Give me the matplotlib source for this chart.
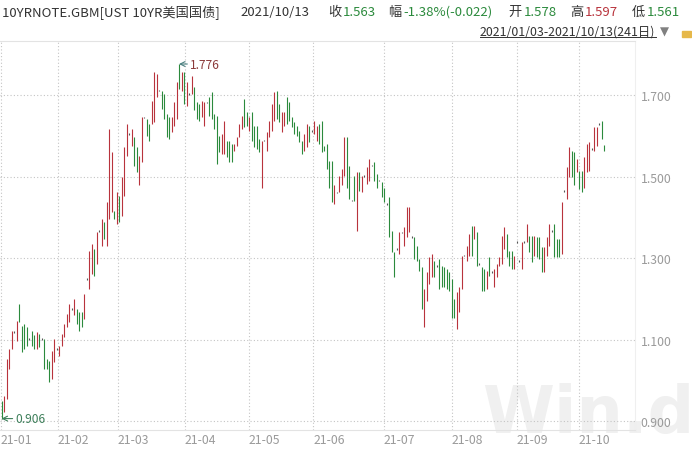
import numpy as np
import matplotlib
matplotlib.use("Agg")
from matplotlib import pyplot as plt

plt.rcParams['font.family'] = ['Noto Sans CJK SC', 'DejaVu Sans']

# daily open / close of the 10Y note yield
opens = [
    0.950, 0.921, 0.954, 1.028, 1.077, 1.118, 1.097, 1.187, 1.134, 1.138,
    1.130, 1.101, 1.122, 1.110, 1.077, 1.114, 1.101, 1.101, 1.052, 1.048,
    1.003, 1.044, 1.077, 1.060, 1.085, 1.106, 1.130, 1.142, 1.175, 1.159,
    1.175, 1.167, 1.167, 1.150, 1.248, 1.224, 1.261, 1.322, 1.285, 1.367,
    1.330, 1.388, 1.330, 1.396, 1.412, 1.416, 1.384, 1.453, 1.404, 1.453,
    1.551, 1.604, 1.576, 1.596, 1.572, 1.478, 1.535, 1.645, 1.641, 1.629,
    1.629, 1.633, 1.694, 1.711, 1.711, 1.703, 1.654, 1.645, 1.608, 1.625,
    1.641, 1.776, 1.711, 1.756, 1.674, 1.703, 1.703, 1.719, 1.682,
    1.678, 1.645, 1.625, 1.682, 1.694, 1.707, 1.654, 1.649, 1.600,
    1.555, 1.555, 1.588, 1.588, 1.580,
    1.563, 1.576, 1.596, 1.617,
    1.690, 1.658, 1.612, 1.658, 1.625, 1.625, 1.592, 1.473, 1.588, 1.563,
    1.596, 1.612, 1.637, 1.711, 1.678,
    1.608, 1.625, 1.694, 1.682, 1.645, 1.633, 1.625, 1.612, 1.588,
    1.563, 1.572, 1.625, 1.612, 1.604, 1.588, 1.629, 1.637,
    1.576, 1.580,
    1.539, 1.539, 1.433, 1.461, 1.461, 1.478, 1.502, 1.596, 1.527, 1.441,
    1.502, 1.367, 1.510, 1.461, 1.502, 1.482, 1.490,
    1.527, 1.535, 1.506, 1.490, 1.486, 1.473, 1.433,
    1.449, 1.367, 1.314, 1.322, 1.310, 1.363, 1.330, 1.351, 1.363, 1.351,
    1.351, 1.330,
    1.298, 1.277, 1.130, 1.195, 1.236, 1.253, 1.293, 1.281,
    1.298, 1.281, 1.277, 1.273, 1.265, 1.248, 1.199, 1.126, 1.167, 1.224,
    1.306, 1.293, 1.306, 1.379, 1.347, 1.363, 1.285,
    1.277, 1.273, 1.224, 1.302, 1.265, 1.228,
    1.253, 1.281, 1.285, 1.322, 1.359, 1.318, 1.318, 1.273, 1.339, 1.293,
    1.273,
    1.339, 1.339, 1.355, 1.355, 1.306, 1.351, 1.351, 1.326, 1.265, 1.306,
    1.330, 1.367, 1.384, 1.347, 1.347, 1.310, 1.465,
    1.445, 1.498, 1.563, 1.559, 1.510, 1.514, 1.514, 1.473, 1.510, 1.514,
    1.568, 1.563, 1.576, 1.629, 1.637, 1.578,
]
closes = [
    0.906, 0.962, 1.052, 1.077, 1.122, 1.118, 1.146, 1.142, 1.069, 1.077,
    1.085, 1.101, 1.085, 1.077, 1.118, 1.081, 1.101, 1.028, 1.028, 0.995,
    1.073, 1.101, 1.077, 1.085, 1.114, 1.138, 1.163, 1.187, 1.175, 1.199,
    1.138, 1.122, 1.130, 1.212, 1.248, 1.318, 1.334, 1.257, 1.363, 1.367,
    1.396, 1.347, 1.437, 1.617, 1.559, 1.396, 1.461, 1.388, 1.498, 1.572,
    1.629, 1.604, 1.617, 1.527, 1.510, 1.551, 1.645, 1.645, 1.600, 1.588,
    1.686, 1.756, 1.752, 1.711, 1.666, 1.641, 1.596, 1.592, 1.645, 1.682,
    1.731, 1.715, 1.756, 1.678, 1.731, 1.703, 1.747, 1.662, 1.641,
    1.637, 1.686, 1.682, 1.682, 1.649, 1.641, 1.617, 1.531, 1.559,
    1.604, 1.637, 1.547, 1.535, 1.535,
    1.580, 1.596, 1.629, 1.649,
    1.621, 1.625, 1.645, 1.588, 1.572, 1.568, 1.559, 1.588, 1.588, 1.608,
    1.637, 1.678, 1.707, 1.641, 1.633,
    1.658, 1.658, 1.629, 1.637, 1.621, 1.604, 1.600, 1.584, 1.555,
    1.604, 1.629, 1.584, 1.612, 1.637, 1.625, 1.580, 1.559,
    1.563, 1.518,
    1.473, 1.437, 1.478, 1.461, 1.502, 1.518, 1.596, 1.473, 1.445, 1.441,
    1.441, 1.510, 1.465, 1.502, 1.502, 1.523, 1.543,
    1.527, 1.490, 1.473, 1.490, 1.449, 1.437, 1.433,
    1.351, 1.314, 1.253, 1.322, 1.363, 1.363, 1.375, 1.424, 1.424, 1.351,
    1.298, 1.293,
    1.269, 1.175, 1.224, 1.265, 1.302, 1.310, 1.253, 1.281,
    1.224, 1.228, 1.228, 1.224, 1.220, 1.154, 1.154, 1.216, 1.228, 1.306,
    1.306, 1.330, 1.359, 1.306, 1.379, 1.281, 1.285,
    1.220, 1.220, 1.269, 1.257, 1.265, 1.273,
    1.285, 1.302, 1.355, 1.375, 1.302, 1.281, 1.273, 1.306, 1.339, 1.293,
    1.339,
    1.339, 1.384, 1.314, 1.289, 1.355, 1.302, 1.298, 1.265, 1.326, 1.351,
    1.384, 1.367, 1.302, 1.302, 1.302, 1.437, 1.465,
    1.523, 1.572, 1.498, 1.478, 1.543, 1.469, 1.461, 1.547, 1.580, 1.584,
    1.568, 1.621, 1.621, 1.629, 1.592, 1.563,
]
assert len(opens) == len(closes)

month_labels = ['21-01', '21-02', '21-03', '21-04', '21-05',
                '21-06', '21-07', '21-08', '21-09', '21-10']
month_starts = [-0.2, 22.6, 46.4, 73.3, 99, 124.7, 152.8, 180, 206, 231]
y_ticks = [0.9, 1.1, 1.3, 1.5, 1.7]

RED = '#b8333c'
GREEN = '#2b8a3c'
GRAY_TXT = '#9a9a9a'

o = np.array(opens)
c = np.array(closes)
x = np.arange(len(o))
lo = np.minimum(o, c)
hi = np.maximum(o, c)
flat = hi - lo < 0.001
lo[flat] -= 0.002
hi[flat] += 0.002
cols = np.where(c > o, RED, np.where(c < o, GREEN, '#555555'))

fig = plt.figure(figsize=(6.92, 4.52), dpi=100)
ax = fig.add_axes([0, 21 / 452, 635 / 692, 389 / 452])
ax.set_xlim(-0.6, 253.4)
ax.set_ylim(0.878, 1.8325)

# watermark
ax.text(482 / 692, 1 - 433 / 452, 'Win.d', transform=fig.transFigure,
        fontsize=47, fontweight='bold', color='#f0f0f0',
        family='DejaVu Sans', va='baseline', ha='left', zorder=0.5)

for v in y_ticks:
    ax.axhline(v, color='#c4c4c4', lw=0.8, ls=(0, (1, 2)), zorder=1)
for m in month_starts:
    ax.axvline(m, color='#c4c4c4', lw=0.8, ls=(0, (1, 2)), zorder=1)

ax.vlines(x, lo, hi, colors=cols, lw=0.8, zorder=3)

# max / min markers
imax = int(np.argmax(o))
ax.annotate('%.3f' % o[imax], xy=(x[imax], o[imax]), xytext=(8, 0),
            textcoords='offset points', va='center', ha='left',
            fontsize=8.6, color='#8b3a3a',
            arrowprops=dict(arrowstyle='->', color='#4a7f7f', lw=0.8,
                            shrinkA=0, shrinkB=0))
imin = int(np.argmin(c))
ax.annotate('%.3f' % c[imin], xy=(x[imin], c[imin]), xytext=(10, 0),
            textcoords='offset points', va='center', ha='left',
            fontsize=8.6, color='#3d7f5a',
            arrowprops=dict(arrowstyle='->', color='#3d7f5a', lw=0.8,
                            shrinkA=0, shrinkB=0))

ax.spines['left'].set_visible(False)
ax.spines['bottom'].set_color('#e3e3e3')
ax.spines['top'].set_color('#e3e3e3')
ax.spines['right'].set_color('#efefef')

ax.yaxis.tick_right()
ax.set_yticks(y_ticks)
ax.set_yticklabels(['%.3f' % v for v in y_ticks])
ax.set_xticks(month_starts)
ax.set_xticklabels(month_labels)
for lbl in ax.get_xticklabels():
    lbl.set_ha('left')
ax.tick_params(axis='both', length=0, labelsize=8.8, colors=GRAY_TXT)
ax.tick_params(axis='x', pad=2.5)
ax.tick_params(axis='y', pad=4)


def ftext(px, py, s, color='#333333', size=9.5, **kw):
    fig.text(px / 692, 1 - py / 452, s, color=color, fontsize=size,
             va='center', ha='left', **kw)


ftext(2, 12.5, '10YRNOTE.GBM[UST 10YR美国国债]')
ftext(240, 12.5, '2021/10/13')
ftext(328, 12.5, '收')
ftext(343, 12.5, '1.563', GREEN)
ftext(388, 12.5, '幅')
ftext(403, 12.5, '-1.38%(-0.022)', GREEN)
ftext(508, 12.5, '开')
ftext(524, 12.5, '1.578', GREEN)
ftext(570, 12.5, '高')
ftext(585, 12.5, '1.597', RED)
ftext(632, 12.5, '低')
ftext(647, 12.5, '1.561', GREEN)

ftext(480, 32, '2021/01/03-2021/10/13(241日)', '#333333', 8.9)
fig.add_artist(plt.Line2D([480 / 692, 656 / 692], [1 - 38 / 452, 1 - 38 / 452],
                          color='#333333', lw=0.7))
ftext(660, 32, '▼', '#808080', 8.5, family='DejaVu Sans')
fig.add_artist(plt.Rectangle((682 / 692, 1 - 38 / 452), 9 / 692, 6 / 452,
                             color='#e6b84a'))

fig.savefig('out.png', dpi=100)
